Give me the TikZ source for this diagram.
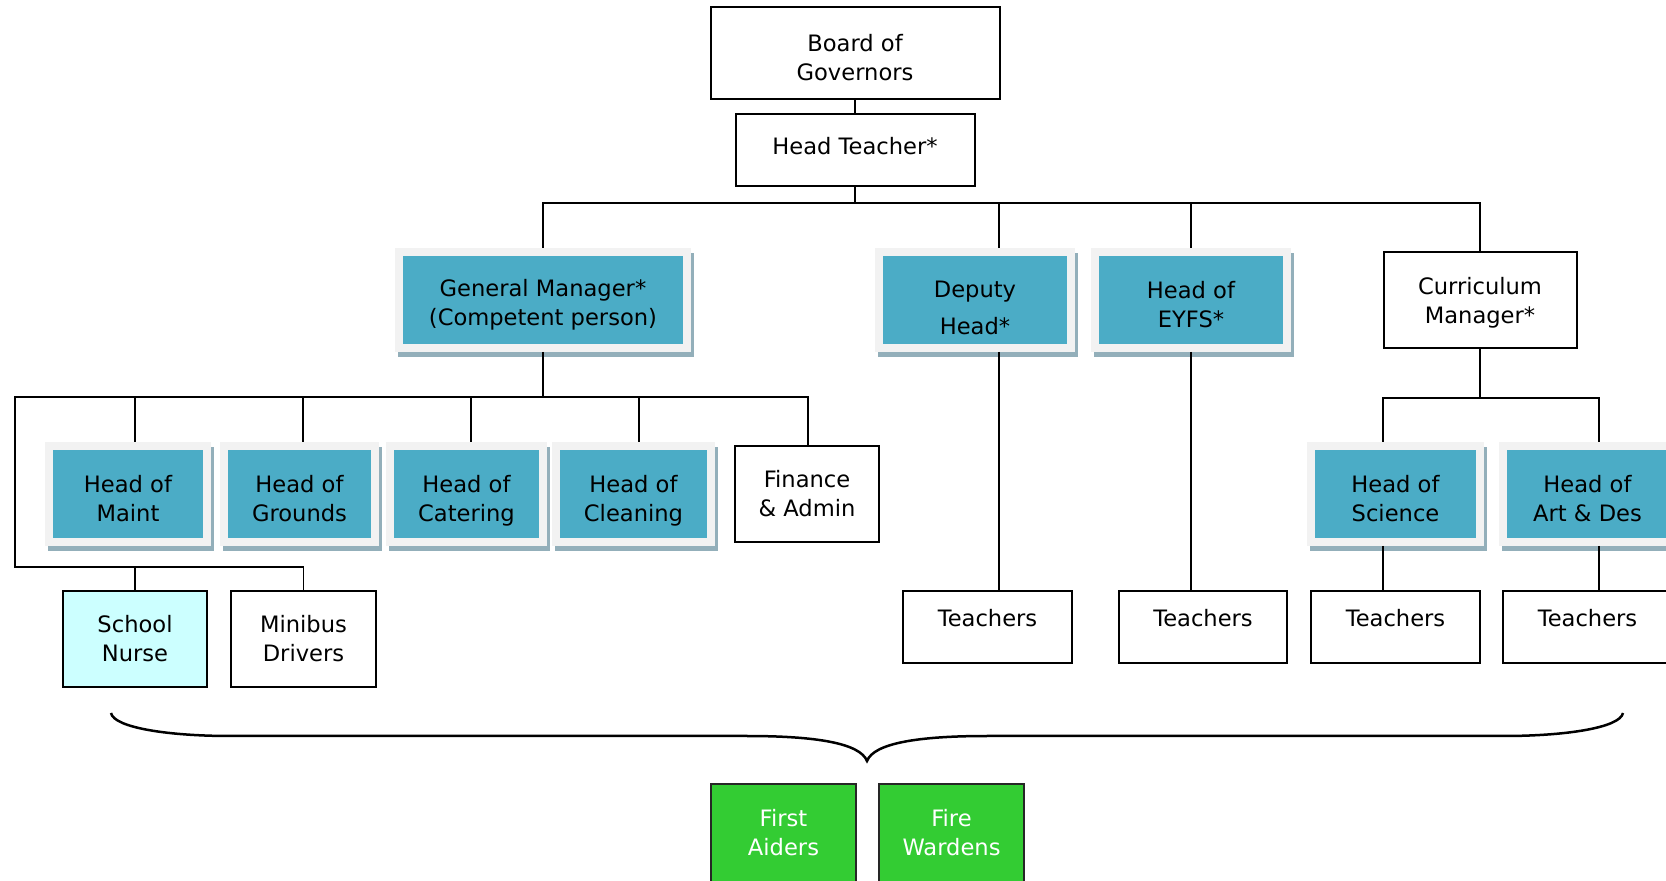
\documentclass[tikz,border=0pt]{standalone}
\usepackage{fontspec}
\setmainfont{DejaVu Sans}
\definecolor{aqua}{HTML}{4BACC6}
\definecolor{framegray}{HTML}{F2F2F2}
\definecolor{shadowblue}{HTML}{93AFBA}
\definecolor{nursecyan}{HTML}{CCFFFF}
\definecolor{aidgreen}{HTML}{33CC33}
\newcommand{\ystrut}[1]{\rule{0pt}{#1}}
\begin{document}
\begin{tikzpicture}[x=0.5pt,y=-0.5pt]
        % Styles
        \tikzstyle{box}=[align=center,inner sep=0pt,font=\fontsize{11.3}{14.5}\selectfont]
        \tikzstyle{white box}=[box,draw,fill=white,line width=1pt]
        \tikzstyle{blue box}=[box,fill=aqua,draw=framegray,line width=4pt,minimum height=48pt,
            preaction={draw=shadowblue,fill=shadowblue,transform canvas={xshift=1.5pt,yshift=-2.5pt}}]
        \tikzstyle{teach box}=[white box,minimum width=84.5pt,minimum height=36pt,text depth=9pt]
        \tikzstyle{green box}=[box,draw=black!85,fill=aidgreen,text=white,line width=1pt,
            minimum width=72.5pt,minimum height=49pt]
        \tikzstyle{link}=[line width=0.9pt]
        \useasboundingbox (0,0) rectangle (1666,881);
        %The graphic
        %top
        \node[white box,minimum width=144.5pt,minimum height=46pt] (gov) at (855,53) {\ystrut{12.8pt}Board of\\Governors};
        \node[white box,minimum width=119.5pt,minimum height=36pt,text depth=4pt] (head) at (855,150) {Head Teacher*};
        %second row
        \node[blue box,minimum width=144pt] (gm) at (543,300) {\ystrut{13.6pt}General Manager*\\(Competent person)};
        \node[blue box,minimum width=96pt] (dep) at (975,300) {\ystrut{16pt}Deputy\\[4pt]Head*};
        \node[blue box,minimum width=96pt] (eyfs) at (1191,300) {\ystrut{13.6pt}Head of\\EYFS*};
        \node[white box,minimum width=96.5pt,minimum height=48pt] (curr) at (1480,300) {\ystrut{11.8pt}Curriculum\\Manager*};
        %third row
        \node[blue box,minimum width=79pt] (maint) at (128,494) {\ystrut{13.6pt}Head of\\Maint};
        \node[blue box,minimum width=75.5pt] (grounds) at (299.5,494) {\ystrut{13.6pt}Head of\\Grounds};
        \node[blue box,minimum width=76.5pt] (cater) at (466.5,494) {\ystrut{15.6pt}Head of\\Catering};
        \node[blue box,minimum width=77.5pt] (clean) at (633.5,494) {\ystrut{15.6pt}Head of\\Cleaning};
        \node[white box,minimum width=72pt,minimum height=48pt] (fin) at (807,494) {Finance\\\& Admin};
        \node[blue box,minimum width=84.5pt] (sci) at (1395.5,494) {\ystrut{13.6pt}Head of\\Science};
        \node[blue box,minimum width=84.5pt] (art) at (1587.5,494) {\ystrut{13.6pt}Head of\\Art \& Des};
        %fourth row
        \node[white box,fill=nursecyan,minimum width=72pt,minimum height=48pt] (nurse) at (135,639) {School\\Nurse};
        \node[white box,minimum width=72.5pt,minimum height=48pt] (minibus) at (303.5,639) {Minibus\\Drivers};
        \node[teach box] (tdep) at (987.5,627) {Teachers};
        \node[teach box,minimum width=84pt] (teyfs) at (1203,627) {Teachers};
        \node[teach box] (tsci) at (1395.5,627) {Teachers};
        \node[teach box] (tart) at (1587.5,627) {Teachers};
        %bottom
        \node[green box] (aid) at (783.5,833) {First\\Aiders};
        \node[green box] (ward) at (951.5,833) {Fire\\Wardens};
        %links
        \draw[link] (gov) -- (head);
        \coordinate (topbus) at (855,203);
        \draw[link] (head) -- (topbus);
        \draw[link] (gm.north) |- (topbus) -| (curr.north);
        \draw[link] ([xshift=12pt]dep.north) |- (topbus);
        \draw[link] (eyfs.north) |- (topbus);
        \draw[link] ([xshift=12pt]dep.south) -- ([xshift=5.75pt]tdep.north);
        \draw[link] (eyfs.south) -- ([xshift=-6pt]teyfs.north);
        \coordinate (gmbus) at (543,397);
        \draw[link] (gm.south) -- (gmbus);
        \foreach \n/\s in {maint/3.5pt,grounds/1.75pt,cater/2.25pt,clean/2.75pt,fin/0.5pt}
            \draw[link] ([xshift=\s]\n.north) |- (gmbus);
        \coordinate (lbus) at (15,567);
        \draw[link] (gmbus) -| (lbus) -| (minibus.north);
        \draw[link] (nurse.north) |- (lbus);
        \coordinate (currbus) at (1480,398);
        \draw[link] (curr.south) -- (currbus);
        \draw[link] ([xshift=-6.25pt]sci.north) |- (currbus) -| ([xshift=5.75pt]art.north);
        \draw[link] ([xshift=-6.25pt]sci.south) -- ([xshift=-6.25pt]tsci.north);
        \draw[link] ([xshift=5.75pt]art.south) -- ([xshift=5.75pt]tart.north);
        %brace
        \draw[line width=1.25pt] (111,713) .. controls (114,728) and (170,736) .. (230,736) -- (747,736)
            .. controls (815,736) and (860,743) .. (867,761)
            .. controls (874,743) and (919,736) .. (987,736) -- (1504,736)
            .. controls (1564,736) and (1620,728) .. (1623,713);
\end{tikzpicture}
\end{document}
